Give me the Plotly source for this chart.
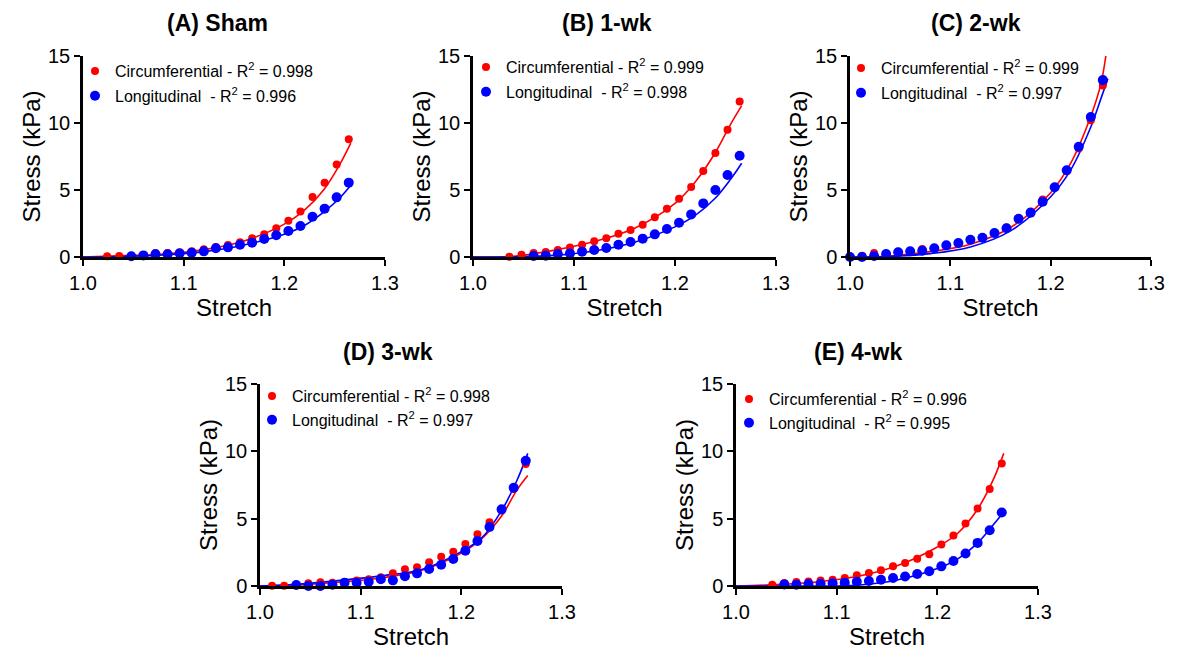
import plotly.graph_objects as go

# the page body has an 8px margin; the figure is drawn 8px in from the top-left
OFF = 8
W, H = 1181 - OFF, 654 - OFF
RED = "#ff0000"
BLUE = "#0000ff"

# ---------------- data ----------------
titles = ["(A) Sham", "(B) 1-wk", "(C) 2-wk", "(D) 3-wk", "(E) 4-wk"]
r2_circ = ["0.998", "0.999", "0.999", "0.998", "0.996"]
r2_long = ["0.996", "0.998", "0.997", "0.997", "0.995"]

# measured stretch values (step 0.012)
stretch_full = [1.000, 1.012, 1.024, 1.036, 1.048, 1.060, 1.072, 1.084, 1.096, 1.108,
                1.120, 1.132, 1.144, 1.156, 1.168, 1.180, 1.192, 1.204, 1.216, 1.228,
                1.240, 1.252, 1.264]

# (A) Sham
a_circ_x = stretch_full[2:23]
a_circ_y = [0.05, 0.07, 0.08, 0.15, 0.30, 0.30, 0.35, 0.42, 0.57, 0.75, 0.90, 1.10,
            1.40, 1.70, 2.15, 2.70, 3.40, 4.48, 5.55, 6.90, 8.78]
a_long_x = stretch_full[4:23]
a_long_y = [0.05, 0.12, 0.20, 0.20, 0.27, 0.32, 0.42, 0.65, 0.72, 0.92, 1.07, 1.34,
            1.62, 1.94, 2.31, 3.01, 3.61, 4.45, 5.55]

# (B) 1-wk
b_circ_x = stretch_full[3:23]
b_circ_y = [0.02, 0.17, 0.30, 0.37, 0.52, 0.70, 0.92, 1.17, 1.39, 1.74, 2.01, 2.41,
            2.96, 3.61, 4.35, 5.22, 6.42, 7.76, 9.50, 11.60]
b_long_x = stretch_full[5:23]
b_long_y = [0.07, 0.10, 0.22, 0.27, 0.40, 0.52, 0.67, 0.92, 1.12, 1.37, 1.69, 2.09,
            2.56, 3.18, 4.00, 5.00, 6.12, 7.56]

# (C) 2-wk
c_circ_x = stretch_full[0:22]
c_circ_y = [0.00, 0.10, 0.30, 0.25, 0.40, 0.45, 0.60, 0.65, 0.85, 1.00, 1.25, 1.45,
            1.80, 2.20, 2.80, 3.40, 4.30, 5.20, 6.40, 8.10, 10.20, 12.80]
c_long_x = stretch_full[0:22]
c_long_y = [0.00, 0.00, 0.07, 0.22, 0.35, 0.42, 0.47, 0.65, 0.87, 1.04, 1.29, 1.44,
            1.79, 2.14, 2.86, 3.31, 4.13, 5.20, 6.47, 8.23, 10.45, 13.20]

# (D) 3-wk
d_circ_x = stretch_full[1:23]
d_circ_y = [0.02, 0.02, 0.05, 0.20, 0.27, 0.25, 0.30, 0.40, 0.50, 0.65, 0.94, 1.24,
            1.39, 1.76, 2.18, 2.55, 3.12, 3.84, 4.73, 5.60, 7.20, 9.06]
d_long_x = stretch_full[3:23]
d_long_y = [0.07, 0.00, 0.00, 0.10, 0.25, 0.25, 0.32, 0.50, 0.42, 0.72, 0.94, 1.26,
            1.58, 2.00, 2.62, 3.34, 4.38, 5.69, 7.30, 9.30]

# (E) 4-wk
e_circ_x = stretch_full[3:23]
e_circ_y = [0.10, 0.22, 0.30, 0.33, 0.40, 0.47, 0.60, 0.79, 0.97, 1.17, 1.46, 1.71,
            2.03, 2.36, 3.08, 3.75, 4.64, 5.76, 7.20, 9.10]
e_long_x = stretch_full[4:23]
e_long_y = [0.12, 0.10, 0.15, 0.17, 0.20, 0.25, 0.32, 0.37, 0.47, 0.60, 0.70, 0.89,
            1.09, 1.46, 1.86, 2.41, 3.20, 4.14, 5.46]

# fitted curves at these stretches
fit_x = [1.0, 1.04, 1.08, 1.12, 1.16, 1.2, 1.22, 1.24, 1.255, 1.266]
a_fit_circ = [0.0, 0.10, 0.22, 0.55, 1.20, 2.45, 3.50, 5.10, 6.90, 8.50]
a_fit_long = [0.0, 0.04, 0.15, 0.40, 0.90, 1.70, 2.35, 3.40, 4.40, 5.35]
b_fit_circ = [0.0, 0.05, 0.50, 1.15, 2.15, 4.00, 5.60, 7.80, 9.90, 11.30]
b_fit_long = [0.0, 0.02, 0.12, 0.45, 1.10, 2.25, 3.10, 4.40, 5.80, 7.00]
d_fit_circ = [0.0, 0.08, 0.30, 0.60, 1.15, 2.45, 3.50, 5.20, 7.10, 8.20]
d_fit_long = [0.0, 0.15, 0.42, 0.75, 1.20, 2.55, 3.55, 5.60, 7.80, 9.85]
e_fit_circ = [0.0, 0.10, 0.30, 0.70, 1.50, 2.90, 3.90, 5.70, 7.80, 9.85]
e_fit_long = [0.0, 0.00, 0.00, 0.06, 0.45, 1.30, 2.00, 3.20, 4.50, 5.50]
c_fit_circ_x = [1.0, 1.04, 1.08, 1.12, 1.16, 1.2, 1.22, 1.24, 1.25, 1.255]
c_fit_circ = [0.0, 0.08, 0.40, 0.95, 2.20, 4.80, 7.00, 10.50, 12.90, 15.00]
c_fit_long_x = [1.0, 1.04, 1.08, 1.12, 1.16, 1.2, 1.22, 1.24, 1.25, 1.257]
c_fit_long = [0.0, 0.04, 0.25, 0.75, 1.95, 4.50, 6.50, 9.70, 11.80, 13.30]

x_ticks = [1.0, 1.1, 1.2, 1.3]
y_ticks = [0, 5, 10, 15]

panels = [
    dict(cx=a_circ_x, cy=a_circ_y, lx=a_long_x, ly=a_long_y,
         fcx=fit_x, fc=a_fit_circ, flx=fit_x, fl=a_fit_long),
    dict(cx=b_circ_x, cy=b_circ_y, lx=b_long_x, ly=b_long_y,
         fcx=fit_x, fc=b_fit_circ, flx=fit_x, fl=b_fit_long),
    dict(cx=c_circ_x, cy=c_circ_y, lx=c_long_x, ly=c_long_y,
         fcx=c_fit_circ_x, fc=c_fit_circ, flx=c_fit_long_x, fl=c_fit_long),
    dict(cx=d_circ_x, cy=d_circ_y, lx=d_long_x, ly=d_long_y,
         fcx=fit_x, fc=d_fit_circ, flx=fit_x, fl=d_fit_long),
    dict(cx=e_circ_x, cy=e_circ_y, lx=e_long_x, ly=e_long_y,
         fcx=fit_x, fc=e_fit_circ, flx=fit_x, fl=e_fit_long),
]

# ---------------- layout geometry (page pixels) ----------------
boxes = [(83, 385, 56, 257), (473, 776, 56, 257), (850, 1151, 56, 257),
         (260, 562, 384, 586), (736, 1038, 384, 586)]
title_pos = [(217, 23), (607, 23), (976, 23), (388, 352), (858, 352)]
legend_pos = [(95, 67), (486, 63), (861, 64), (272, 392), (749, 395)]


def px(v):
    return (v - OFF) / W


def py(v):
    return 1 - (v - OFF) / H


FONT = "Liberation Sans, Arial, sans-serif"

fig = go.Figure()
layout = dict(
    width=W, height=H, paper_bgcolor="white", plot_bgcolor="white",
    margin=dict(l=0, r=0, t=0, b=0), font=dict(family=FONT, color="black"),
    annotations=[],
)

for i, p in enumerate(panels):
    n = "" if i == 0 else str(i + 1)
    xa, ya = "x" + n, "y" + n
    leg = "legend" if i == 0 else "legend" + str(i + 1)
    fig.add_trace(go.Scatter(x=p["fcx"], y=p["fc"], mode="lines", xaxis=xa, yaxis=ya,
                             line=dict(color=RED, width=1.6, shape="spline"),
                             showlegend=False, hoverinfo="skip"))
    fig.add_trace(go.Scatter(x=p["flx"], y=p["fl"], mode="lines", xaxis=xa, yaxis=ya,
                             line=dict(color=BLUE, width=1.6, shape="spline"),
                             showlegend=False, hoverinfo="skip"))
    fig.add_trace(go.Scatter(x=p["cx"], y=p["cy"], mode="markers", xaxis=xa, yaxis=ya,
                             marker=dict(color=RED, size=8), cliponaxis=False,
                             name="Circumferential - R<sup>2</sup> = " + r2_circ[i],
                             legend=leg, legendgroup="c" + n))
    fig.add_trace(go.Scatter(x=p["lx"], y=p["ly"], mode="markers", xaxis=xa, yaxis=ya,
                             marker=dict(color=BLUE, size=10), cliponaxis=False,
                             name="Longitudinal\u00a0 - R<sup>2</sup> = " + r2_long[i],
                             legend=leg, legendgroup="l" + n))

    x0, x1, y0, y1 = boxes[i]
    axis_common = dict(showline=True, linecolor="black", linewidth=2.5, ticks="outside",
                       ticklen=6, tickwidth=2, tickcolor="black", showgrid=False,
                       zeroline=False, tickfont=dict(size=20, family=FONT),
                       automargin=False)
    layout["xaxis" + n] = dict(axis_common, domain=[px(x0), px(x1)], range=[1.0, 1.3],
                               tickvals=x_ticks, tickformat=".1f", anchor=ya,
                               title=dict(text="Stretch", font=dict(size=24), standoff=6))
    layout["yaxis" + n] = dict(axis_common, domain=[py(y1), py(y0)], range=[0, 15],
                               tickvals=y_ticks, anchor=xa,
                               title=dict(text="Stress (kPa)", font=dict(size=24), standoff=1))
    lx, ly = legend_pos[i]
    gap = 1 if i < 3 else 0
    layout[leg] = dict(x=px(lx - 20), y=py(ly - 13), xanchor="left", yanchor="top",
                       bgcolor="rgba(0,0,0,0)", font=dict(size=16, family=FONT),
                       tracegroupgap=gap, traceorder="grouped", itemclick=False)
    tx, ty = title_pos[i]
    layout["annotations"].append(dict(
        text="<b>" + titles[i] + "</b>", x=px(tx), y=py(ty), xref="paper", yref="paper",
        showarrow=False, xanchor="center", yanchor="middle",
        font=dict(size=23, family=FONT)))

fig.update_layout(**layout)
fig.write_html("out.html")
